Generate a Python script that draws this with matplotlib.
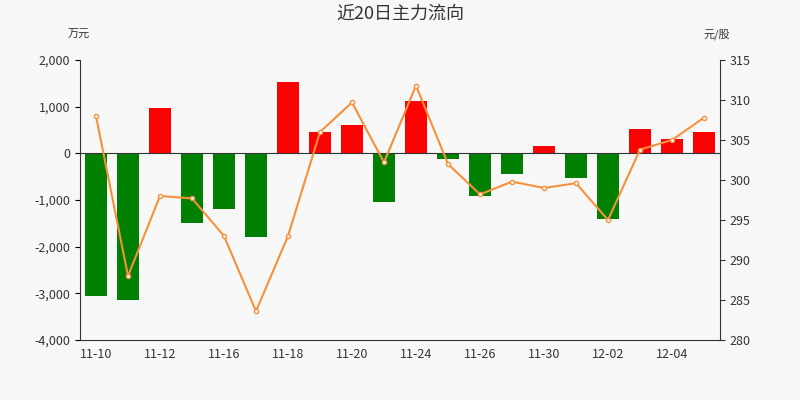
import matplotlib
matplotlib.use("Agg")
import matplotlib.pyplot as plt

plt.rcParams['font.family'] = ['Noto Sans CJK SC', 'DejaVu Sans']

dates = ["11-10","11-11","11-12","11-13","11-16","11-17","11-18","11-19","11-20","11-23",
         "11-24","11-25","11-26","11-27","11-30","12-01","12-02","12-03","12-04","12-05"]
flows = [-3050,-3150,970,-1500,-1200,-1800,1520,450,610,-1050,
         1130,-120,-920,-450,150,-520,-1400,530,300,450]
prices = [308,288,298,297.7,293,283.6,293,306,309.7,302.2,
          311.8,302,298.2,299.8,299,299.6,295,303.8,305,307.8]

fig = plt.figure(figsize=(8,4), dpi=100, facecolor='#f8f8f8')
ax = fig.add_axes([0.1, 0.15, 0.8, 0.70])
ax.set_facecolor('#f8f8f8')
x = list(range(len(dates)))
colors = ['#ff0000' if v >= 0 else '#008000' for v in flows]
ax.bar(x, flows, width=0.68, color=colors, zorder=2)
ax.set_ylim(-4000, 2000)
ax.set_yticks(range(-4000, 2001, 1000))
ax.set_yticklabels([f"{v:,}" for v in range(-4000, 2001, 1000)], fontsize=9, color='#333333')
ax.set_xlim(-0.5, len(dates)-0.5)
ax.set_xticks(x[::2])
ax.set_xticklabels(dates[::2], fontsize=9, color='#333333')
ax.axhline(0, color='#333333', lw=0.8, zorder=3)
for s in ['top', 'right']:
    ax.spines[s].set_visible(False)
ax.spines['left'].set_color('#333333')
ax.spines['bottom'].set_color('#333333')
ax.tick_params(axis='x', length=0, pad=6)

ax2 = ax.twinx()
ax2.plot(x, prices, color='#f7903c', lw=1.5, marker='o', ms=3, mfc='white', mec='#f7903c', zorder=4)
ax2.set_ylim(280, 315)
ax2.set_yticks(range(280, 316, 5))
ax2.tick_params(labelsize=9, colors='#333333')
for s in ['top', 'left', 'bottom']:
    ax2.spines[s].set_visible(False)
ax2.spines['right'].set_color('#333333')

fig.text(0.5, 0.965, "近20日主力流向", ha='center', va='center', fontsize=13, color='#333333')
fig.text(0.085, 0.905, "万元", fontsize=8, color='#333333')
fig.text(0.88, 0.905, "元/股", fontsize=8, color='#333333')
fig.savefig("out.png", dpi=100, facecolor=fig.get_facecolor())
